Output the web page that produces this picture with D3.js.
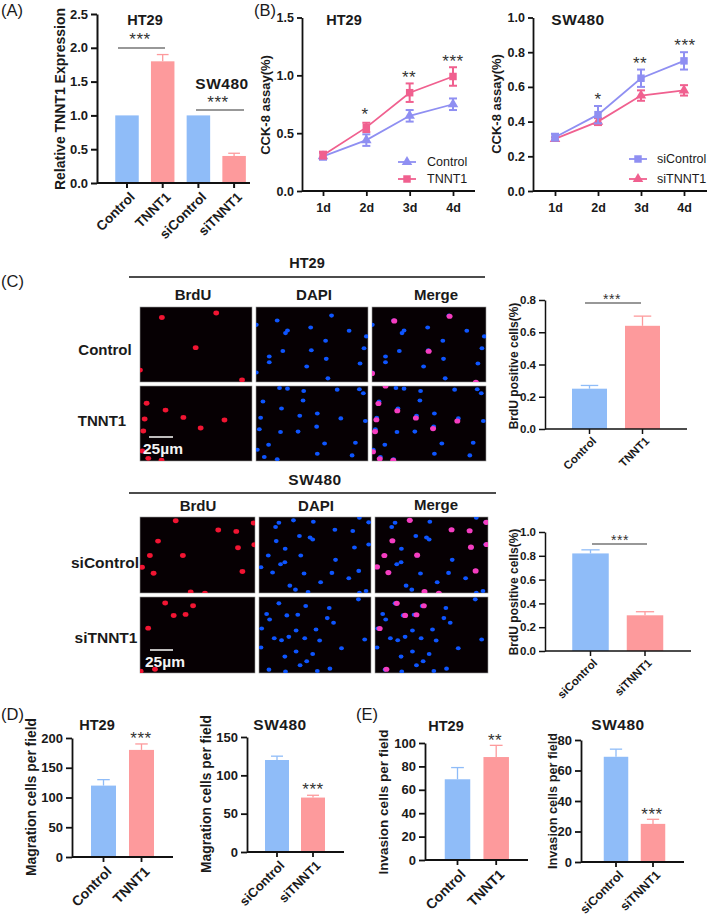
<!DOCTYPE html>
<html>
<head>
<meta charset="utf-8">
<script src="https://cdn.jsdelivr.net/npm/d3@7"></script>
<style>
html, body { margin: 0; padding: 0; background: #fff; }
text { font-family: "Liberation Sans", Arial, sans-serif; fill: #1a1a1a; }
</style>
</head>
<body>
<div id="chart"></div>
<script>
// bar values
const htGroups = ['Control', 'TNNT1'];
const swGroups = ['siControl', 'siTNNT1'];
const exprGroups = ['Control', 'TNNT1', 'siControl', 'siTNNT1'];
const exprValues = [1, 1.8, 1, 0.4];
const exprErrors = [0, 0.1, 0, 0.04];
const brduHtValues = [0.25, 0.64];
const brduHtErrors = [0.02, 0.06];
const brduSwValues = [0.82, 0.3];
const brduSwErrors = [0.03, 0.03];
const migHtValues = [120, 180];
const migHtErrors = [10, 10];
const migSwValues = [120, 71];
const migSwErrors = [5, 3];
const invHtValues = [69, 88];
const invHtErrors = [10, 10];
const invSwValues = [69, 25];
const invSwErrors = [5, 3];

// CCK-8 curves
const days = ['1d', '2d', '3d', '4d'];
const cckHtControl = [0.3, 0.44, 0.65, 0.75];
const cckHtControlErr = [0.03, 0.05, 0.05, 0.05];
const cckHtTnnt1 = [0.31, 0.55, 0.85, 0.99];
const cckHtTnnt1Err = [0.03, 0.04, 0.08, 0.08];
const cckSwControl = [0.31, 0.44, 0.65, 0.75];
const cckSwControlErr = [0.02, 0.05, 0.05, 0.05];
const cckSwTnnt1 = [0.3, 0.4, 0.55, 0.58];
const cckSwTnnt1Err = [0.01, 0.02, 0.03, 0.03];

const htCtrlBrdu = [[66,32],[230,18],[168,123],[0,191],[308,221]];
const htCtrlDapi = [[64,41],[228,26],[95,71],[89,79],[165,62],[281,72],[1,54],[210,102],[333,89],[81,133],[167,131],[326,125],[40,150],[40,167],[212,157],[153,180],[314,171],[217,216],[1,198]];
const htCtrlMerge = [[66,42],[230,28],[168,134],[0,201],[308,228]];
const htTnntBrdu = [[20,52],[77,73],[131,95],[255,103],[183,127],[14,100],[10,136],[7,197],[25,219],[65,225]];
const htTnntDapi = [[71,6],[95,8],[144,15],[245,11],[312,10],[324,22],[21,47],[142,44],[77,68],[132,90],[185,83],[256,98],[14,96],[330,106],[10,131],[74,139],[127,138],[183,123],[207,174],[300,172],[38,178],[4,193],[25,215],[185,205],[290,210],[64,222]];
const htTnntMerge = [[19,53],[75,75],[130,97],[253,106],[181,129],[13,102],[9,138],[3,199],[23,220],[63,225],[40,0]];
const swCtrlBrdu = [[105,11],[230,39],[283,43],[334,18],[53,72],[288,92],[336,83],[29,115],[126,115],[6,150],[40,168],[301,163],[149,224],[191,228]];
const swCtrlDapi = [[60,17],[50,30],[104,10],[164,14],[303,2],[331,16],[229,38],[283,42],[122,57],[154,61],[162,67],[52,72],[79,95],[288,91],[331,82],[28,115],[126,115],[231,128],[65,141],[78,135],[6,150],[41,166],[136,169],[220,167],[301,161],[271,183],[186,195],[93,205],[110,217],[148,224],[323,221],[303,226]];
const swCtrlMerge = [[104,10],[229,38],[283,41],[333,16],[52,71],[287,90],[334,82],[28,115],[126,114],[6,149],[40,166],[301,161],[148,223],[191,228]];
const swTnntBrdu = [[74,18],[156,26],[99,55],[134,52],[24,93],[44,216],[2,222]];
const swTnntDapi = [[60,19],[141,27],[212,33],[300,7],[23,51],[84,55],[117,53],[206,63],[225,77],[32,67],[8,94],[112,100],[172,97],[46,123],[68,129],[90,119],[138,123],[183,130],[319,127],[249,153],[6,151],[78,178],[112,163],[162,170],[144,192],[124,204],[214,214],[30,217],[80,223],[176,221]];
const swTnntMerge = [[65,19],[146,26],[90,55],[124,53],[14,94],[34,216]];

const blue = '#8fbcf8', pink = '#fd9a9c';
const purple = '#8f8ff2', rose = '#f0608f';
const nucRed = '#f01232', nucBlue = '#0f55ff', nucPink = '#f53cc0';

const svg = d3.select('#chart').append('svg')
    .attr('width', 709)
    .attr('height', 919)
    .style('display', 'block');

const defs = svg.append('defs');
defs.append('filter').attr('id', 'soft')
    .append('feGaussianBlur').attr('stdDeviation', 0.45);

function label(x, y, str, size, weight, anchor, spacing) {
    return svg.append('text')
        .attr('x', x).attr('y', y)
        .attr('dy', '0.35em')
        .attr('text-anchor', anchor || 'middle')
        .style('font-size', size + 'px')
        .style('font-weight', weight || 'bold')
        .style('letter-spacing', spacing || null)
        .text(str);
}

function ylabel(x, y, str, size) {
    svg.append('text')
        .attr('transform', `translate(${x},${y}) rotate(-90)`)
        .attr('dy', '0.35em')
        .attr('text-anchor', 'middle')
        .style('font-size', size + 'px')
        .style('font-weight', 'bold')
        .text(str);
}

// asterisks sit high in the font, so push the baseline down
function stars(x, y, n, size) {
    svg.append('text')
        .attr('x', x).attr('y', y + (size || 17) * 0.42)
        .attr('text-anchor', 'middle')
        .style('font-size', (size || 17) + 'px')
        .style('letter-spacing', '0.5px')
        .style('fill', '#333')
        .text('*'.repeat(n));
}

function sigLine(x1, x2, y) {
    svg.append('line')
        .attr('x1', x1).attr('x2', x2).attr('y1', y).attr('y2', y)
        .attr('stroke', '#333').attr('stroke-width', 1.2);
}

function styleAxis(g, size, width) {
    g.selectAll('path, line').attr('stroke', '#111').attr('stroke-width', width);
    g.selectAll('text')
        .style('font-size', size + 'px')
        .style('font-weight', 'bold');
}

function barPanel(o) {
    const step = o.step;
    const y = d3.scaleLinear().domain([0, o.ymax]).range([o.y0, o.yTop]);
    const inner = 1 - o.barW / step;
    const x = d3.scaleBand()
        .domain(o.groups)
        .range([o.first - step / 2, o.first + (o.groups.length - 0.5) * step])
        .paddingInner(inner)
        .paddingOuter(inner / 2);

    const g = svg.append('g');
    o.groups.forEach((name, i) => {
        const col = i % 2 ? pink : blue;
        const cx = x(name) + x.bandwidth() / 2;
        if (o.errors[i] > 0) {
            const top = y(o.values[i] + o.errors[i]);
            g.append('line').attr('x1', cx).attr('x2', cx)
                .attr('y1', y(o.values[i])).attr('y2', top)
                .attr('stroke', col).attr('stroke-width', 1.3);
            g.append('line').attr('x1', cx - o.barW * 0.25).attr('x2', cx + o.barW * 0.25)
                .attr('y1', top).attr('y2', top)
                .attr('stroke', col).attr('stroke-width', 1.3);
        }
        g.append('rect')
            .attr('x', x(name)).attr('y', y(o.values[i]))
            .attr('width', x.bandwidth())
            .attr('height', o.y0 - y(o.values[i]))
            .attr('fill', col);
    });

    const yAxis = svg.append('g')
        .attr('transform', `translate(${o.x0},0)`)
        .call(d3.axisLeft(y).tickValues(o.ticks).tickFormat(o.fmt).tickSize(6).tickSizeOuter(0));
    styleAxis(yAxis, o.font, o.lw);

    const xAxis = svg.append('g')
        .attr('transform', `translate(0,${o.y0})`)
        .call(d3.axisBottom(x).tickSize(5).tickSizeOuter(0));
    xAxis.select('.domain').attr('d', `M${o.x0},0H${o.xEnd}`);
    styleAxis(xAxis, o.xFont, o.lw);
    xAxis.selectAll('text')
        .attr('x', 0).attr('y', 0)
        .attr('text-anchor', 'end')
        .attr('dy', '0.35em')
        .attr('transform', `translate(${o.xFont * 0.4},${o.xFont * 0.85}) rotate(-45)`);
}

function linePanel(o) {
    const y = d3.scaleLinear().domain([0, o.ymax]).range([o.y0, o.yTop]);
    const x = d3.scalePoint().domain(days).range([o.first, o.last]);
    const line = d3.line().x((d, i) => x(days[i])).y(d => y(d));
    const marker = s => d3.symbol().type(s.symbol).size(s.symbol === d3.symbolSquare ? 56 : 48)();

    o.series.forEach(s => {
        const g = svg.append('g');
        g.append('path').datum(s.values)
            .attr('d', line).attr('fill', 'none')
            .attr('stroke', s.color).attr('stroke-width', 1.8);
        s.values.forEach((v, i) => {
            const cx = x(days[i]);
            g.append('line').attr('x1', cx).attr('x2', cx)
                .attr('y1', y(v - s.errors[i])).attr('y2', y(v + s.errors[i]))
                .attr('stroke', s.color).attr('stroke-width', 2);
            [v - s.errors[i], v + s.errors[i]].forEach(e => {
                g.append('line').attr('x1', cx - 4).attr('x2', cx + 4)
                    .attr('y1', y(e)).attr('y2', y(e))
                    .attr('stroke', s.color).attr('stroke-width', 2);
            });
            g.append('path')
                .attr('transform', `translate(${cx},${y(v)})`)
                .attr('d', marker(s))
                .attr('fill', s.color);
        });
        // legend
        g.append('line').attr('x1', o.legX).attr('x2', o.legX + 18)
            .attr('y1', s.legY).attr('y2', s.legY)
            .attr('stroke', s.color).attr('stroke-width', 1.8);
        g.append('path')
            .attr('transform', `translate(${o.legX + 9},${s.legY})`)
            .attr('d', marker(s))
            .attr('fill', s.color);
        label(o.legText, s.legY, s.name, 12.5, 'normal', 'start');
    });

    const yAxis = svg.append('g')
        .attr('transform', `translate(${o.x0},0)`)
        .call(d3.axisLeft(y).tickValues(o.ticks).tickFormat(d3.format('.1f')).tickSize(5).tickSizeOuter(0));
    styleAxis(yAxis, 12.5, 1.8);

    const xAxis = svg.append('g')
        .attr('transform', `translate(0,${o.y0})`)
        .call(d3.axisBottom(x).tickSize(5).tickSizeOuter(0));
    xAxis.select('.domain').attr('d', `M${o.x0},0H${o.xEnd}`);
    styleAxis(xAxis, 12.5, 1.8);
    xAxis.selectAll('text').attr('dy', '1.05em');
}

let clipId = 0;
function field(x0, x1, y0, y1, layers) {
    const fx = d3.scaleLinear().domain([0, 338]).range([x0, x1]);
    const fy = d3.scaleLinear().domain([0, 227]).range([y0, y1]);
    const id = 'clip' + (clipId++);
    defs.append('clipPath').attr('id', id)
        .append('rect').attr('x', x0).attr('y', y0).attr('width', x1 - x0).attr('height', y1 - y0);
    svg.append('rect')
        .attr('x', x0).attr('y', y0).attr('width', x1 - x0).attr('height', y1 - y0)
        .attr('fill', '#060003').attr('stroke', '#999').attr('stroke-width', 0.6);
    const g = svg.append('g').attr('clip-path', `url(#${id})`)
        .append('g').attr('filter', 'url(#soft)');
    layers.forEach(l => {
        g.selectAll(null).data(l.pts).enter().append('ellipse')
            .attr('cx', d => fx(d[0])).attr('cy', d => fy(d[1]))
            .attr('rx', l.r).attr('ry', l.r * 0.85)
            .attr('fill', l.color);
    });
}

function fieldRow(y0, y1, cols, brdu, dapi, merged) {
    field(cols[0], cols[1], y0, y1, [{ pts: brdu, r: 2.9, color: nucRed }]);
    field(cols[2], cols[3], y0, y1, [{ pts: dapi, r: 2.4, color: nucBlue }]);
    field(cols[4], cols[5], y0, y1, [
        { pts: dapi, r: 2.4, color: nucBlue },
        { pts: merged, r: 3, color: nucPink }
    ]);
}

function scaleBar(x1, x2, y, tx, ty) {
    svg.append('line').attr('x1', x1).attr('x2', x2).attr('y1', y).attr('y2', y)
        .attr('stroke', '#eee').attr('stroke-width', 1.6);
    label(tx, ty, '25µm', 15.5, 'bold', 'start').style('fill', '#f4f4f4');
}

// (A)
barPanel({ groups: exprGroups, values: exprValues, errors: exprErrors, ymax: 2.5,
    ticks: [0, 0.5, 1, 1.5, 2, 2.5], fmt: d3.format('.1f'),
    x0: 97, xEnd: 250, y0: 183, yTop: 14, first: 127, step: 35.7, barW: 23.5, font: 13, xFont: 13.5, lw: 2 });
ylabel(60, 99, 'Relative TNNT1 Expression', 14);
label(145, 20, 'HT29', 14.5);
label(222, 84, 'SW480', 15.5, 'bold', 'middle', '0.5px');
stars(140, 38, 3); sigLine(118, 165, 48);
stars(218, 101, 3); sigLine(196, 244, 110);

// (B)
linePanel({ ymax: 1.5, ticks: [0, 0.5, 1, 1.5], x0: 302, xEnd: 475, y0: 191, yTop: 17.5,
    first: 323, last: 453, legX: 398, legText: 427,
    series: [
        { name: 'Control', values: cckHtControl, errors: cckHtControlErr, color: purple, symbol: d3.symbolTriangle, legY: 162 },
        { name: 'TNNT1', values: cckHtTnnt1, errors: cckHtTnnt1Err, color: rose, symbol: d3.symbolSquare, legY: 179 }
    ] });
ylabel(265, 105, 'CCK-8 assay(%)', 13);
label(344, 20, 'HT29', 14.5);
stars(365, 113, 1); stars(409, 76, 2); stars(453, 60, 3);

linePanel({ ymax: 1, ticks: [0, 0.2, 0.4, 0.6, 0.8, 1], x0: 533, xEnd: 707, y0: 191, yTop: 17.5,
    first: 555, last: 684, legX: 629, legText: 657,
    series: [
        { name: 'siTNNT1', values: cckSwTnnt1, errors: cckSwTnnt1Err, color: rose, symbol: d3.symbolTriangle, legY: 179 },
        { name: 'siControl', values: cckSwControl, errors: cckSwControlErr, color: purple, symbol: d3.symbolSquare, legY: 159 }
    ] });
ylabel(496, 104, 'CCK-8 assay(%)', 13);
label(578, 20, 'SW480', 15.5, 'bold', 'middle', '0.5px');
stars(598, 98, 1); stars(640, 62, 2); stars(685, 44, 3);

// (C) micrographs
const htCols = [140, 252, 256, 368, 372, 486];
const swCols = [140, 255, 259, 371, 375, 488];
label(307, 263, 'HT29', 14.5);
svg.append('line').attr('x1', 129).attr('x2', 485).attr('y1', 277).attr('y2', 277).attr('stroke', '#111').attr('stroke-width', 1.6);
label(193, 295, 'BrdU', 15); label(314, 295, 'DAPI', 15); label(436, 295, 'Merge', 15);
label(105, 350, 'Control', 15); label(102, 421, 'TNNT1', 15);
fieldRow(307, 382, htCols, htCtrlBrdu, htCtrlDapi, htCtrlMerge);
fieldRow(386, 461, htCols, htTnntBrdu, htTnntDapi, htTnntMerge);
scaleBar(149, 173, 437, 143, 449);

label(315, 480, 'SW480', 15.5, 'bold', 'middle', '0.5px');
svg.append('line').attr('x1', 129).attr('x2', 496).attr('y1', 493).attr('y2', 493).attr('stroke', '#111').attr('stroke-width', 1.6);
label(198, 506, 'BrdU', 15); label(316, 506, 'DAPI', 15); label(436, 505, 'Merge', 15);
label(105, 563, 'siControl', 15.5); label(106, 638, 'siTNNT1', 15.5);
fieldRow(517, 593, swCols, swCtrlBrdu, swCtrlDapi, swCtrlMerge);
fieldRow(597, 673, swCols, swTnntBrdu, swTnntDapi, swTnntMerge);
scaleBar(150, 173, 650, 145, 662);

// (C) bars
barPanel({ groups: htGroups, values: brduHtValues, errors: brduHtErrors, ymax: 0.8,
    ticks: [0, 0.2, 0.4, 0.6, 0.8], fmt: d3.format('.1f'),
    x0: 545, xEnd: 687, y0: 429, yTop: 300, first: 589.5, step: 53, barW: 35, font: 11.5, xFont: 11.5, lw: 1.5 });
ylabel(514, 366, 'BrdU positive cells(%)', 12);
stars(612, 298, 3, 14); sigLine(585, 641, 303);

barPanel({ groups: swGroups, values: brduSwValues, errors: brduSwErrors, ymax: 1,
    ticks: [0, 0.2, 0.4, 0.6, 0.8, 1], fmt: d3.format('.1f'),
    x0: 545, xEnd: 691, y0: 651, yTop: 532, first: 590.5, step: 54.5, barW: 36.5, font: 11.5, xFont: 11.5, lw: 1.5 });
ylabel(514, 592, 'BrdU positive cells(%)', 12);
stars(620, 539, 3, 14); sigLine(592, 647, 544);

// (D)
barPanel({ groups: htGroups, values: migHtValues, errors: migHtErrors, ymax: 200,
    ticks: [0, 50, 100, 150, 200], fmt: d3.format('d'),
    x0: 72, xEnd: 173, y0: 857, yTop: 738, first: 103.5, step: 38, barW: 25, font: 13, xFont: 14, lw: 1.8 });
ylabel(31, 797, 'Magration cells per field', 13.8);
label(97, 725, 'HT29', 14.5);
stars(141, 737, 3);

barPanel({ groups: swGroups, values: migSwValues, errors: migSwErrors, ymax: 150,
    ticks: [0, 50, 100, 150], fmt: d3.format('d'),
    x0: 247, xEnd: 344, y0: 852, yTop: 737, first: 277, step: 36, barW: 24, font: 13, xFont: 13, lw: 1.8 });
ylabel(206, 794, 'Magration cells per field', 13.8);
label(280, 725, 'SW480', 15.5, 'bold', 'middle', '0.5px');
stars(313, 788, 3);

// (E)
barPanel({ groups: htGroups, values: invHtValues, errors: invHtErrors, ymax: 100,
    ticks: [0, 20, 40, 60, 80, 100], fmt: d3.format('d'),
    x0: 425, xEnd: 528, y0: 860, yTop: 743, first: 457.5, step: 38.7, barW: 25.5, font: 13, xFont: 14, lw: 1.8 });
ylabel(383, 802, 'Invasion cells per field', 13.5);
label(446, 726, 'HT29', 14.5);
stars(495, 739, 2);

barPanel({ groups: swGroups, values: invSwValues, errors: invSwErrors, ymax: 80,
    ticks: [0, 20, 40, 60, 80], fmt: d3.format('d'),
    x0: 581, xEnd: 684, y0: 862, yTop: 740, first: 616, step: 37, barW: 24.5, font: 13, xFont: 12.5, lw: 1.8 });
ylabel(553, 801, 'Invasion cells per field', 12.7);
label(618, 725, 'SW480', 15.5, 'bold', 'middle', '0.5px');
stars(652, 813, 3);

// panel letters
label(1, 10, '(A)', 16.5, 'normal', 'start');
label(254, 10, '(B)', 16.5, 'normal', 'start');
label(1, 281, '(C)', 16.5, 'normal', 'start');
label(1, 714, '(D)', 16.5, 'normal', 'start');
label(356, 714, '(E)', 16.5, 'normal', 'start');
</script>
</body>
</html>
